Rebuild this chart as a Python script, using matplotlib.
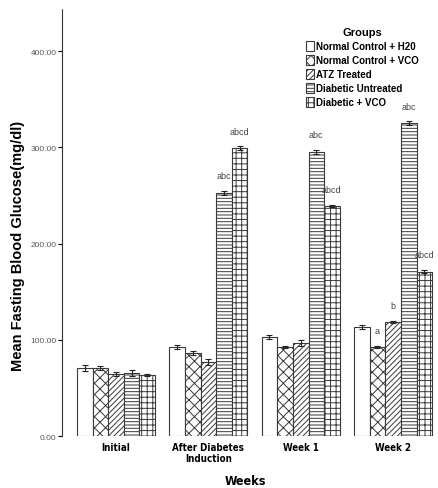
import matplotlib
matplotlib.use("Agg")
import matplotlib.pyplot as plt
import numpy as np

# Mean fasting blood glucose per group and week
weeks = ["Initial", "After Diabetes\nInduction", "Week 1", "Week 2"]
groups = ["Normal Control + H20", "Normal Control + VCO", "ATZ Treated",
          "Diabetic Untreated", "Diabetic + VCO"]
normal_h2o = [71, 93, 103, 113]
normal_vco = [71, 86, 93, 93]
atz = [65, 77, 97, 119]
diab_untreated = [66, 253, 295, 325]
diab_vco = [64, 299, 239, 171]
errors = [
    [3, 2, 2, 2],
    [2, 2, 1, 1],
    [2, 3, 3, 1],
    [3, 2, 2, 2],
    [1, 2, 1, 2],
]
labels = [
    ["", "", "", ""],
    ["", "", "", "a"],
    ["", "", "", "b"],
    ["", "abc", "abc", "abc"],
    ["", "abcd", "abcd", "abcd"],
]
series = [normal_h2o, normal_vco, atz, diab_untreated, diab_vco]
hatches = ["", "xxx", "//////", "-----", "+++"]

plt.rcParams["hatch.linewidth"] = 0.7
narrow = dict(family="DejaVu Sans", stretch="condensed")

fig = plt.figure(figsize=(4.39, 4.89), dpi=100)
ax = fig.add_axes([0.141, 0.106, 0.855, 0.874])

x = np.arange(len(weeks))
w = 0.169
for i, (vals, h) in enumerate(zip(series, hatches)):
    pos = x + (i - 2) * w
    ax.bar(pos, vals, w, color="white", edgecolor="#3a3a3a", hatch=h,
           linewidth=0.8, label=groups[i], zorder=2)
    ax.errorbar(pos, vals, yerr=errors[i], fmt="none", ecolor="#222222",
                elinewidth=0.8, capsize=2, capthick=0.8, zorder=3)
    for j, txt in enumerate(labels[i]):
        if txt:
            ax.text(pos[j], vals[j] + errors[i][j] + 16, txt, ha="center",
                    va="center", fontsize=6.5, color="#444444",
                    family="Liberation Sans")

ax.set_xlim(-0.585, 3.478)
ax.set_ylim(0, 444)
ax.set_yticks([0, 100, 200, 300, 400])
ax.set_yticklabels(["0.00", "100.00", "200.00", "300.00", "400.00"],
                   fontsize=6, color="#555555", family="Liberation Sans")
ax.set_xticks(x)
ax.set_xticklabels(weeks, fontsize=7, fontweight="bold", **narrow)
ax.tick_params(axis="x", length=0, pad=4)
ax.tick_params(axis="y", length=3, width=0.8, direction="out", pad=1)

for s in ["top", "right", "bottom"]:
    ax.spines[s].set_visible(False)
ax.spines["left"].set_linestyle((0, (1.5, 1)))
ax.spines["left"].set_linewidth(0.8)
ax.spines["left"].set_color("#333333")

ax.set_ylabel("Mean Fasting Blood Glucose(mg/dl)", fontsize=10.5,
              fontweight="bold", family="Liberation Sans", va="center")
ax.yaxis.set_label_coords(-0.117, 0.447)
ax.set_xlabel("Weeks", fontsize=9, fontweight="bold", va="center", **narrow)
ax.xaxis.set_label_coords(0.49, -0.103)

leg = ax.legend(loc="upper right", bbox_to_anchor=(0.965, 0.97), frameon=False,
                title="Groups",
                prop={"family": "Liberation Sans", "weight": "bold", "size": 7},
                handlelength=0.8, handleheight=1.15, handletextpad=0.15,
                labelspacing=0.4, borderaxespad=0.2)
leg.get_title().set_fontweight("bold")
leg.get_title().set_fontsize(8)
leg.get_title().set_family("Liberation Sans")

fig.savefig("out.png", dpi=100)
